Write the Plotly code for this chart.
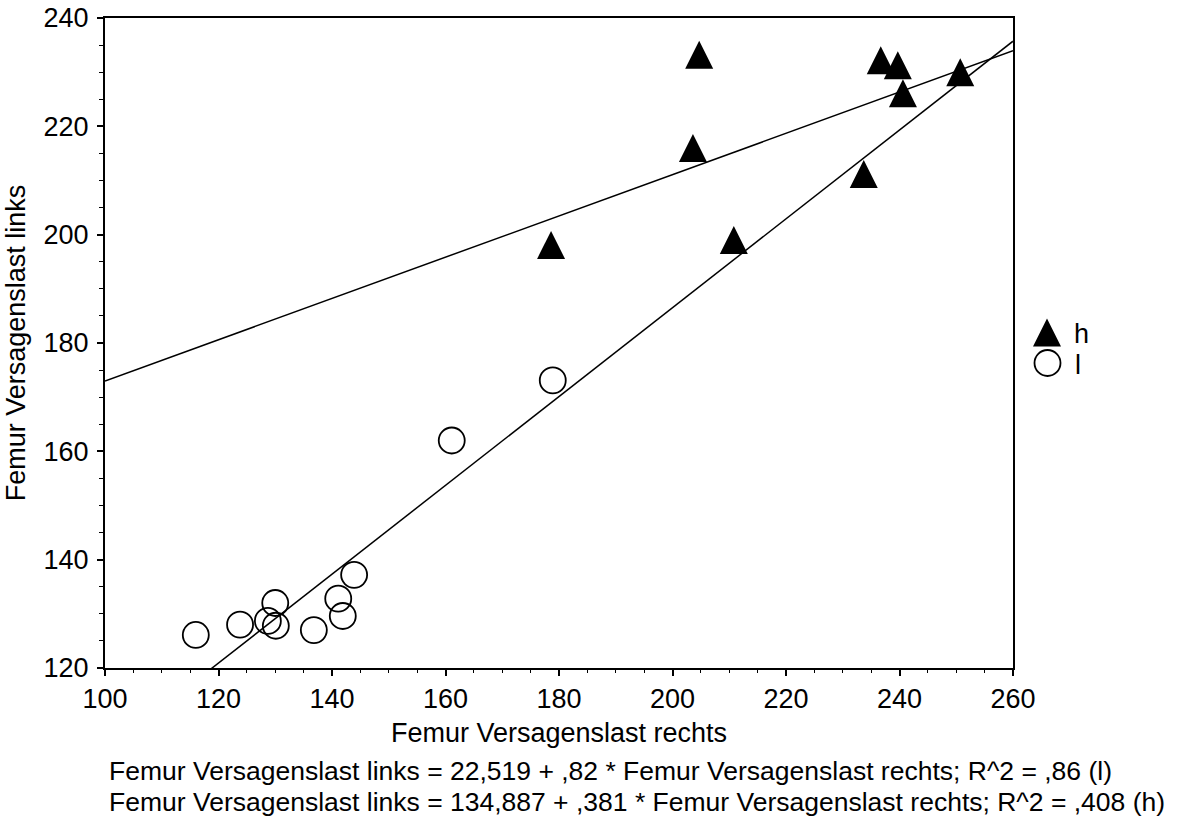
import plotly.graph_objects as go

# Group "h": right / left femur failure load
h_rechts = [204.7, 236.7, 239.7, 240.6, 250.7, 203.6, 178.6, 210.8, 233.7]
h_links = [233.2, 232.2, 231.3, 226.1, 230.0, 216.0, 198.1, 199.0, 211.2]

# Group "l": right / left femur failure load
l_rechts = [116.0, 123.8, 128.7, 130.0, 130.1, 136.8, 141.1, 141.9, 143.9, 161.1, 178.9]
l_links = [126.1, 128.0, 128.7, 132.0, 127.8, 127.0, 132.8, 129.6, 137.2, 162.0, 173.1]

# Linear fits per group (links = a + b * rechts)
fit_groups = ["l", "h"]
fit_intercepts = [22.519, 134.887]
fit_slopes = [0.82, 0.381]
fit_intercept_text = ["22,519", "134,887"]
fit_slope_text = [",82", ",381"]
fit_r2_text = [",86", ",408"]

x_title = "Femur Versagenslast rechts"
y_title = "Femur Versagenslast links"
x_range = [100, 260]
y_range = [120, 240]
x_ticks = [100, 120, 140, 160, 180, 200, 220, 240, 260]
y_ticks = [120, 140, 160, 180, 200, 220, 240]

# ---- geometry ----
W, H = 1182, 816
ML, MR, MT, MB = 105, 60, 18, 148
plot_w = W - ML - MR
plot_h = H - MT - MB
main_right = 908  # width of the main plotting area in px
FONT = "Arial, 'Liberation Sans', sans-serif"
FS = 27
FS_NOTE = 26.5
TRI = 28  # triangle marker size (px)

# arrow-up markers are anchored at their apex; shift so the shape is centred on the value
units_per_px_y = (y_range[1] - y_range[0]) / plot_h
tri_shift = (TRI / 2) * units_per_px_y
h_links_apex = [v + tri_shift for v in h_links]

fig = go.Figure()

# regression lines across the full x range
for a, b in zip(fit_intercepts, fit_slopes):
    xs = [x_range[0], x_range[1]]
    fig.add_trace(go.Scatter(
        x=xs, y=[a + b * x for x in xs], mode="lines",
        line=dict(color="black", width=1.5), showlegend=False, hoverinfo="skip",
    ))

fig.add_trace(go.Scatter(
    x=l_rechts, y=l_links, mode="markers", name="l", showlegend=False,
    marker=dict(symbol="circle-open", size=26, color="black", line=dict(width=1.8, color="black")),
))
fig.add_trace(go.Scatter(
    x=h_rechts, y=h_links_apex, mode="markers", name="h", showlegend=False,
    marker=dict(symbol="arrow-up", size=TRI, color="black", line=dict(width=0)),
))

# legend keys on a small auxiliary axis to the right of the plot
leg_x0, leg_x1 = 1020, W - MR
leg_y0, leg_y1 = 280, 420
fig.add_trace(go.Scatter(
    x=[1047], y=[318.5], xaxis="x2", yaxis="y2", mode="markers", showlegend=False,
    marker=dict(symbol="arrow-up", size=TRI, color="black", line=dict(width=0)), hoverinfo="skip",
))
fig.add_trace(go.Scatter(
    x=[1047.5], y=[363], xaxis="x2", yaxis="y2", mode="markers", showlegend=False,
    marker=dict(symbol="circle-open", size=26, color="black", line=dict(width=1.8, color="black")),
    hoverinfo="skip",
))

annotations = [
    dict(text="h", x=1072, y=334, xref="x2", yref="y2", xanchor="left", yanchor="middle",
         showarrow=False, font=dict(size=FS, color="black", family=FONT)),
    dict(text="l", x=1073, y=365, xref="x2", yref="y2", xanchor="left", yanchor="middle",
         showarrow=False, font=dict(size=FS, color="black", family=FONT)),
]

# fit equations below the axis title
foot_y = [771, 802]
for g, a_t, b_t, r_t, py in zip(fit_groups, fit_intercept_text, fit_slope_text, fit_r2_text, foot_y):
    txt = f"{y_title} = {a_t} + {b_t} * {x_title}; R^2 = {r_t} ({g})"
    annotations.append(dict(
        text=txt, x=(107 - ML) / plot_w, y=(H - MB - py) / plot_h,
        xref="paper", yref="paper", xanchor="left", yanchor="middle",
        showarrow=False, font=dict(size=FS_NOTE, color="black", family=FONT),
    ))

axis_common = dict(
    showgrid=False, zeroline=False, showline=True, linecolor="black", linewidth=2,
    mirror=True, ticks="outside", ticklen=6, tickwidth=1.5, tickcolor="black",
    tickfont=dict(size=FS, color="black", family=FONT), automargin=False,
)

fig.update_layout(
    width=W, height=H,
    margin=dict(l=ML, r=MR, t=MT, b=MB, pad=0, autoexpand=False),
    paper_bgcolor="white", plot_bgcolor="white",
    font=dict(family=FONT, size=FS, color="black"),
    showlegend=False,
    xaxis=dict(
        range=x_range, tickvals=x_ticks, domain=[0, main_right / plot_w],
        title=dict(text=x_title, font=dict(size=FS, family=FONT, color="black"), standoff=10),
        minor=dict(dtick=5, tick0=100, ticks="outside", ticklen=3, tickwidth=1, tickcolor="black"),
        **axis_common,
    ),
    yaxis=dict(
        range=y_range, tickvals=y_ticks, ticklabelstandoff=3,
        title=dict(text=y_title, font=dict(size=FS, family=FONT, color="black"), standoff=10),
        minor=dict(dtick=5, tick0=120, ticks="outside", ticklen=4, tickwidth=1, tickcolor="black"),
        **axis_common,
    ),
    xaxis2=dict(domain=[(leg_x0 - ML) / plot_w, 1], range=[leg_x0, leg_x1], visible=False,
                anchor="y2", fixedrange=True),
    yaxis2=dict(domain=[(H - MB - leg_y1) / plot_h, (H - MB - leg_y0) / plot_h],
                range=[leg_y1, leg_y0], visible=False, anchor="x2", fixedrange=True),
    annotations=annotations,
)

fig.write_html("out.html")
